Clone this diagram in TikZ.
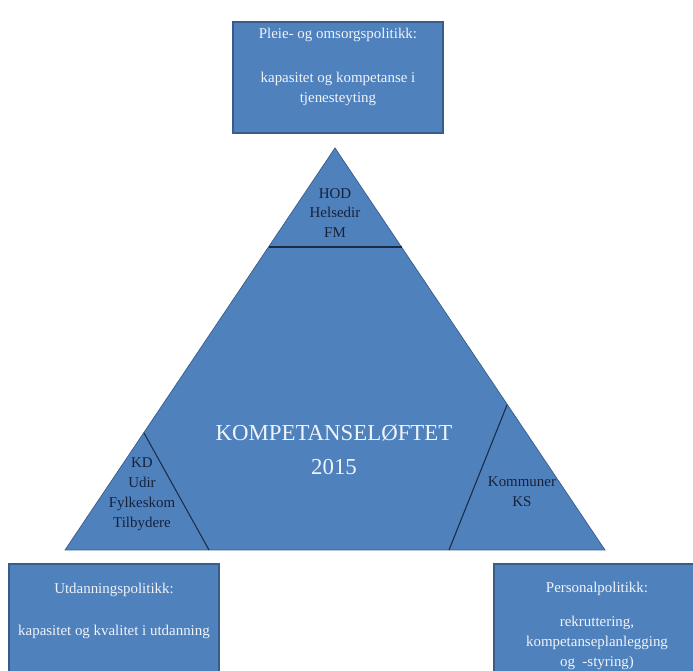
\documentclass[tikz,border=0pt]{standalone}
\usepackage{fontspec}
\setmainfont{Liberation Serif}
\usepackage{tikz}
\usetikzlibrary{calc}
\definecolor{boxblue}{HTML}{4F81BD}
\definecolor{boxline}{HTML}{385D8A}
\definecolor{cutline}{HTML}{1B2B47}
\definecolor{lighttext}{HTML}{F0F4FA}
\definecolor{darktext}{HTML}{16213A}

\begin{document}
\begin{tikzpicture}[x=0.02cm,y=-0.02cm,
    policybox/.style={fill=boxblue,draw=boxline,line width=1.1pt},
    lighttxt/.style={text=lighttext,align=center,inner sep=0pt,font=\fontsize{8.5}{11.3}\selectfont},
    darktxt/.style={text=darktext,align=center,inner sep=0pt,font=\fontsize{8.5}{11.3}\selectfont}]
    \useasboundingbox (0,0) rectangle (693,671);
    \clip (0,0) rectangle (693,671);
    \coordinate (T) at (335,148); \coordinate (L) at (65,550); \coordinate (R) at (605,550);
    \coordinate (T1) at ($(T)!0.2463!(L)$); \coordinate (T2) at ($(T)!0.2463!(R)$);
    \coordinate (L1) at (144,433); \coordinate (L2) at (209,550);
    \coordinate (R1) at (507,405); \coordinate (R2) at (449,550);
    \draw[policybox] (233,22) rectangle (443,133);
    \draw[policybox] (9,564) rectangle (219,700);
    \draw[policybox] (494,564) rectangle (710,700);
    \draw[fill=boxblue,draw=boxline,line width=0.4pt] (T) -- (L) -- (R) -- cycle;
    \draw[cutline,line width=0.6pt] (T1) -- (T2);
    \draw[cutline,line width=0.6pt] (L1) -- (L2);
    \draw[cutline,line width=0.6pt] (R1) -- (R2);
    \node[lighttxt] (pleie) at (338,67) {Pleie- og omsorgspolitikk:\\[13.5pt]kapasitet og kompetanse i\\tjenesteyting};
    \node[lighttxt] (utdanning) at (114,611) {Utdanningspolitikk:\\[12.5pt]kapasitet og kvalitet i utdanning};
    \node[lighttxt] (personal) at (597,626) {Personalpolitikk:\\[8pt]rekruttering,\\kompetanseplanlegging\\og~~-styring)};
    \node[text=lighttext,align=center,inner sep=0pt,font=\fontsize{13}{19.3}\selectfont] (loft) at (334,450) {KOMPETANSELØFTET\\2015};
    \node[darktxt] (hod) at (335,213) {HOD\\Helsedir\\FM};
    \node[darktxt] (kd) at (142,494) {KD\\Udir\\Fylkeskom\\Tilbydere};
    \node[darktxt] (kommuner) at (522,492) {Kommuner\\KS};
\end{tikzpicture}
\end{document}
